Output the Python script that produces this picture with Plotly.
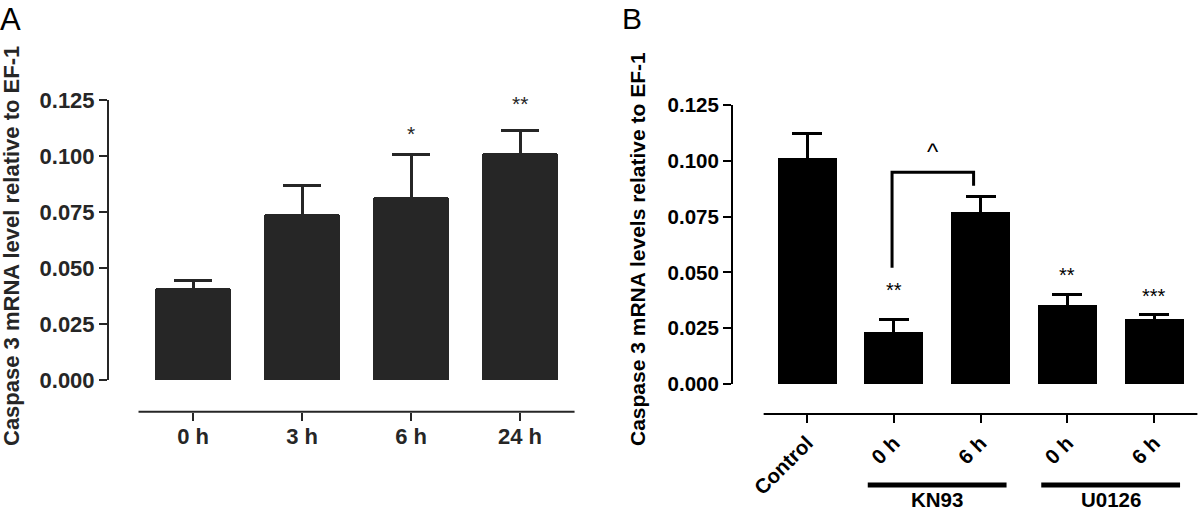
import plotly.graph_objects as go

W, H = 1200, 512

# ---------------- Data ----------------
a_labels = ["0 h", "3 h", "6 h", "24 h"]
a_means = [0.0412, 0.0742, 0.0818, 0.1013]
a_errs = [0.0033, 0.0125, 0.0191, 0.0103]
a_stars = ["", "", "*", "**"]
a_star_y = [None, None, 0.110, 0.1235]

b_labels = ["Control", "0 h", "6 h", "0 h", "6 h"]
b_means = [0.1013, 0.0234, 0.0771, 0.0353, 0.0293]
b_errs = [0.0109, 0.0057, 0.0071, 0.0047, 0.0019]
b_stars = ["", "**", "", "**", "***"]
b_star_y = [None, 0.0421, None, 0.0488, 0.0394]

b_groups = ["KN93", "U0126"]
b_group_span = [(0.70, 2.30), (2.70, 4.30)]

y_ticks = [0.000, 0.025, 0.050, 0.075, 0.100, 0.125]

# bracket between KN93 0 h and 6 h
bracket_x = (0.98, 1.92)
bracket_y_left = 0.0521
bracket_y_top = 0.0948
bracket_y_right = 0.0888
bracket_label = "^"
bracket_label_y = 0.1041

FONT = "Liberation Sans, Arial, sans-serif"
CA = "#262626"
CB = "#000000"

def px_x(p):
    return p / W

def px_y(p):
    return 1 - p / H

fig = go.Figure()

xa = list(range(len(a_labels)))
xb = list(range(len(b_labels)))

# the lower end of each error bar is hidden inside its bar
HIDE = 0.003

fig.add_trace(go.Bar(
    x=xa, y=a_means, width=0.70,
    marker=dict(color=CA, line_width=0, cornerradius=3),
    error_y=dict(type="data", array=a_errs, arrayminus=[HIDE] * len(a_errs),
                 symmetric=False, color=CA, thickness=3, width=19),
    xaxis="x", yaxis="y", showlegend=False, hoverinfo="skip"))

fig.add_trace(go.Bar(
    x=xb, y=b_means, width=0.68,
    marker=dict(color=CB, line_width=0),
    error_y=dict(type="data", array=b_errs, arrayminus=[HIDE] * len(b_errs),
                 symmetric=False, color=CB, thickness=3, width=15),
    xaxis="x2", yaxis="y2", showlegend=False, hoverinfo="skip"))

tickfont_a = dict(family=FONT, size=22, color=CA, weight="bold")
tickfont_b = dict(family=FONT, size=20.5, color=CB, weight="bold")

common_x = dict(showgrid=False, zeroline=False, showline=False, ticks="outside",
                ticklen=8, tickwidth=2, automargin=False)
common_y = dict(showgrid=False, zeroline=False, showline=False, ticks="outside",
                ticklen=8, tickwidth=2, tickvals=y_ticks, tickformat=".3f",
                automargin=False)

fig.update_layout(
    width=W, height=H,
    margin=dict(l=0, r=0, t=0, b=0),
    paper_bgcolor="white", plot_bgcolor="white",
    bargap=0,
    xaxis=dict(domain=[px_x(108), px_x(580)], range=[-0.78, 3.55], anchor="y",
               tickvals=xa, ticktext=a_labels, tickcolor=CA, tickfont=tickfont_a,
               ticklabelstandoff=-3, **common_x),
    yaxis=dict(domain=[px_y(411.7), px_y(90)], range=[-0.01415, 0.1295], anchor="x",
               tickcolor=CA, tickfont=tickfont_a, **common_y),
    xaxis2=dict(domain=[px_x(732), px_x(1200)], range=[-0.865, 4.53], anchor="y2",
                tickvals=xb, ticktext=b_labels, tickangle=-45, tickcolor=CB,
                tickfont=tickfont_b, **common_x),
    yaxis2=dict(domain=[px_y(414), px_y(90)], range=[-0.01344, 0.1317], anchor="x2",
                tickcolor=CB, tickfont=tickfont_b, **common_y),
)

shapes = []
# detached axis lines
shapes.append(dict(type="line", xref="x domain", yref="y", x0=0, x1=0, y0=0, y1=0.125,
                   line=dict(color=CA, width=2)))
shapes.append(dict(type="line", xref="x", yref="y domain", x0=-0.5, x1=3.5, y0=0, y1=0,
                   line=dict(color=CA, width=2)))
shapes.append(dict(type="line", xref="x2 domain", yref="y2", x0=0, x1=0, y0=0, y1=0.125,
                   line=dict(color=CB, width=2)))
shapes.append(dict(type="line", xref="x2", yref="y2 domain", x0=-0.5, x1=4.5, y0=0, y1=0,
                   line=dict(color=CB, width=2)))
# bracket
shapes.append(dict(type="path", xref="x2", yref="y2",
                   path=f"M {bracket_x[0]} {bracket_y_left} L {bracket_x[0]} {bracket_y_top} "
                        f"L {bracket_x[1]} {bracket_y_top} L {bracket_x[1]} {bracket_y_right}",
                   line=dict(color=CB, width=3)))
# group lines
for (g0, g1) in b_group_span:
    shapes.append(dict(type="line", xref="x2", yref="paper", x0=g0, x1=g1,
                       y0=px_y(485), y1=px_y(485),
                       line=dict(color=CB, width=5)))
fig.update_layout(shapes=shapes)

C = dict(xanchor="center", yanchor="middle", showarrow=False)

ann = []
for i, (s, y) in enumerate(zip(a_stars, a_star_y)):
    if s:
        ann.append(dict(x=i, y=y, xref="x", yref="y", text=s,
                        font=dict(family=FONT, size=21, color=CA), **C))
for i, (s, y) in enumerate(zip(b_stars, b_star_y)):
    if s:
        ann.append(dict(x=i, y=y, xref="x2", yref="y2", text=s,
                        font=dict(family=FONT, size=20, color=CB), **C))
ann.append(dict(x=(bracket_x[0] + bracket_x[1]) / 2, y=bracket_label_y,
                xref="x2", yref="y2", text=bracket_label,
                font=dict(family=FONT, size=24, color=CB), **C))
for (g0, g1), g in zip(b_group_span, b_groups):
    ann.append(dict(x=(g0 + g1) / 2, y=px_y(512), xref="x2", yref="paper", text=g,
                    xanchor="center", yanchor="bottom", showarrow=False,
                    borderpad=0, font=tickfont_b))
# axis titles
ann.append(dict(x=px_x(11), y=px_y(246), xref="paper", yref="paper",
                text="Caspase 3 mRNA level relative to EF-1", textangle=-90,
                font=dict(family=FONT, size=22, color=CA, weight="bold"), **C))
ann.append(dict(x=px_x(637), y=px_y(249), xref="paper", yref="paper",
                text="Caspase 3 mRNA levels relative to EF-1", textangle=-90,
                font=dict(family=FONT, size=21, color=CB, weight="bold"), **C))
# panel letters
ann.append(dict(x=px_x(-2), y=px_y(0), xref="paper", yref="paper", text="A",
                xanchor="left", yanchor="top", showarrow=False,
                font=dict(family=FONT, size=31, color="#000")))
ann.append(dict(x=px_x(620), y=px_y(0), xref="paper", yref="paper", text="B",
                xanchor="left", yanchor="top", showarrow=False,
                font=dict(family=FONT, size=30, color="#000")))
fig.update_layout(annotations=ann)

fig.write_html("out.html", config={"displayModeBar": False},
               post_script="document.body.style.margin='0';")
